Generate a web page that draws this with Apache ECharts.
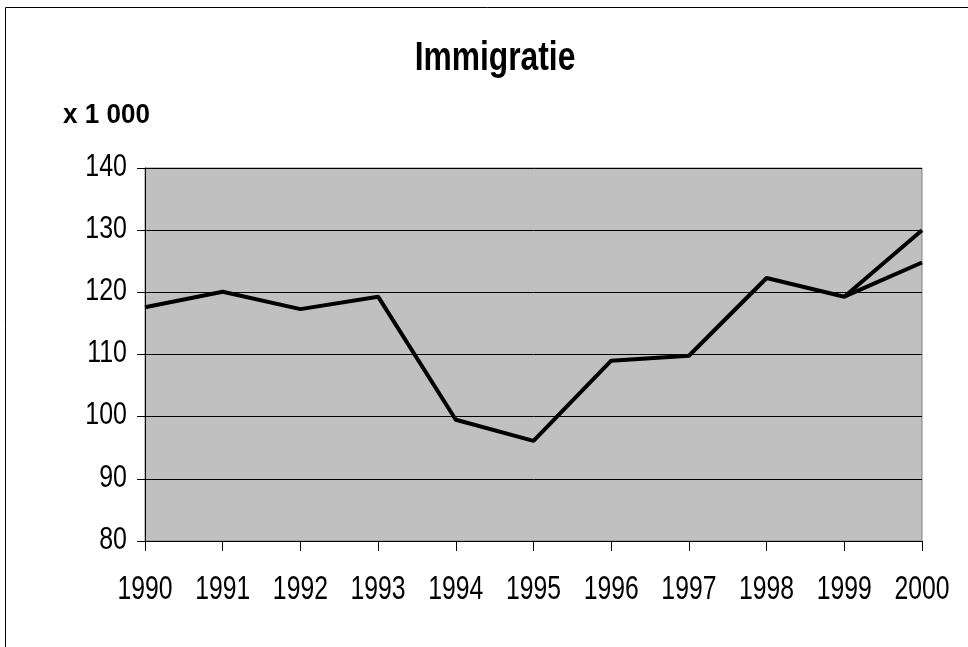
<!DOCTYPE html>
<html>
<head>
<meta charset="utf-8">
<script src="https://cdn.jsdelivr.net/npm/echarts@6/dist/echarts.min.js"></script>
<style>
  html, body { margin: 0; padding: 0; background: #fff; }
  #chart { width: 968px; height: 647px; }
</style>
</head>
<body>
<div id="chart"></div>
<script>
// jaren en waarden (x 1 000)
const years = ['1990', '1991', '1992', '1993', '1994', '1995', '1996', '1997', '1998', '1999', '2000'];
const immigratie = [117.6, 120.1, 117.3, 119.3, 99.5, 96.1, 109.0, 109.8, 122.3, 119.3, 130.0];
const variant = [null, null, null, null, null, null, null, null, null, 119.3, 124.8];
const yTicks = [80, 90, 100, 110, 120, 130, 140];

const font = '"Liberation Sans", Arial, sans-serif';
const chart = echarts.init(document.getElementById('chart'));

const option = {
  backgroundColor: '#fff',
  animation: false,
  grid: {
    left: 145,
    right: 46,
    top: 168,
    bottom: 106,
    show: true,
    backgroundColor: '#c0c0c0',
    borderColor: '#808080',
    borderWidth: 1
  },
  xAxis: {
    type: 'category',
    data: years,
    boundaryGap: false,
    axisLine: { lineStyle: { color: '#000', width: 1 } },
    axisTick: { show: true, length: 10, alignWithLabel: true, interval: 0, lineStyle: { color: '#000' } },
    axisLabel: { show: false },
    splitLine: { show: false }
  },
  yAxis: {
    type: 'value',
    min: yTicks[0],
    max: yTicks[yTicks.length - 1],
    interval: 10,
    axisLine: { show: true, lineStyle: { color: '#000', width: 1 } },
    axisTick: { show: true, length: 8, lineStyle: { color: '#000' } },
    axisLabel: { show: false },
    splitLine: { show: true, lineStyle: { color: '#000', width: 1 } }
  },
  series: [
    {
      type: 'line',
      data: immigratie,
      symbol: 'none',
      lineStyle: { color: '#000', width: 4 },
      z: 3
    },
    {
      type: 'line',
      data: variant,
      symbol: 'none',
      connectNulls: false,
      lineStyle: { color: '#000', width: 4 },
      z: 3
    }
  ]
};

chart.setOption(option);

// smalle (ingedrukte) tekst zoals in het origineel
function narrowText(text, x, y, size, bold, align, sx) {
  return {
    type: 'text',
    x: x,
    y: y,
    scaleX: sx,
    silent: true,
    z: 10,
    style: {
      text: text,
      x: 0,
      y: 0,
      font: (bold ? 'bold ' : '') + size + 'px ' + font,
      fill: '#000',
      align: align,
      textAlign: align,
      verticalAlign: 'middle',
      textVerticalAlign: 'middle'
    }
  };
}

const graphics = [
  {
    type: 'rect',
    shape: { x: 5.5, y: 7.5, width: 1000, height: 700 },
    style: { fill: 'none', stroke: '#000', lineWidth: 1 },
    silent: true
  },
  narrowText('Immigratie', 495, 59, 41, true, 'center', 0.775),
  narrowText('x 1 000', 63, 115, 28, true, 'left', 0.93)
];

// aslabels via de schaal van de grafiek
yTicks.forEach(v => {
  const p = chart.convertToPixel({ gridIndex: 0 }, [0, v]);
  graphics.push(narrowText(String(v), 127, p[1] - 1, 32, false, 'right', 0.78));
});
years.forEach((y, i) => {
  const p = chart.convertToPixel({ gridIndex: 0 }, [i, yTicks[0]]);
  graphics.push(narrowText(y, p[0], 590, 33, false, 'center', 0.75));
});

chart.setOption({ graphic: graphics });
</script>
</body>
</html>
